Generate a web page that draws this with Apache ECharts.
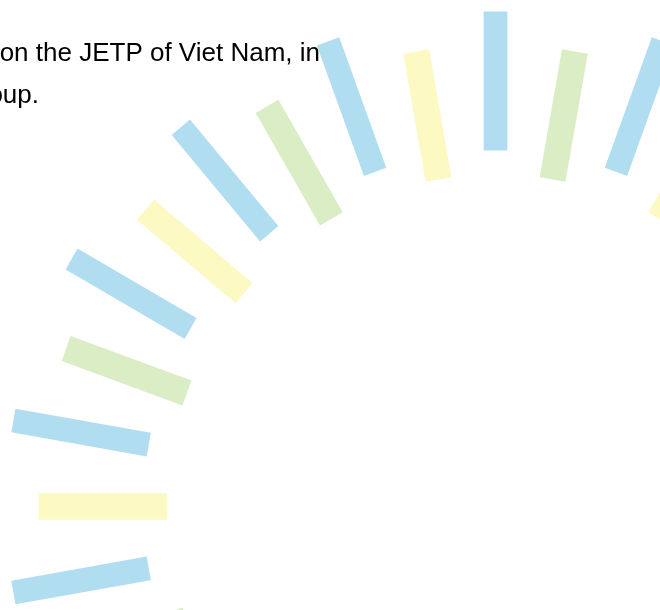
<!DOCTYPE html>
<html>
<head>
<meta charset="utf-8">
<style>
html,body{margin:0;padding:0;background:#ffffff;}
#chart{width:660px;height:610px;}
</style>
<script src="https://cdn.jsdelivr.net/npm/echarts@6/dist/echarts.min.js"></script>
</head>
<body>
<div id="chart"></div>
<script>
// Data: angle (degrees, counter-clockwise from the right) of each ray and its colour group
var rayAngles = [60, 70, 80, 90, 100, 110, 120, 130, 140, 150, 160, 170, 180, 190, 200];
var rayGroups = ['yellow', 'blue', 'green', 'blue', 'yellow', 'blue', 'green', 'blue', 'yellow', 'blue', 'green', 'blue', 'yellow', 'blue', 'green'];
var textLines = ['on the JETP of Viet Nam, in', 'oup.'];

// Styles
var groupStyle = {
  blue:   { color: '#b0def0', r0: 356, r1: 495, w: 24 },
  yellow: { color: '#fcf9c3', r0: 332, r1: 462, w: 26.5 },
  green:  { color: '#dbedc5', r0: 332, r1: 462, w: 26.5 }
};

var data = rayAngles.map(function (a, i) { return [a, i]; });

var chart = echarts.init(document.getElementById('chart'), null, { renderer: 'canvas' });
chart.setOption({
  animation: false,
  backgroundColor: '#ffffff',
  grid: { left: 0, right: 0, top: 0, bottom: 0 },
  xAxis: { type: 'value', min: -501, max: 166.3, show: false },
  yAxis: { type: 'value', min: -103.5, max: 506.5, show: false },
  series: [{
    type: 'custom',
    clip: true,
    data: data,
    renderItem: function (params, api) {
      var a = api.value(0) * Math.PI / 180;
      var g = groupStyle[rayGroups[api.value(1)]];
      var dx = Math.cos(a), dy = Math.sin(a);
      var px = -dy, py = dx;
      var h = g.w / 2;
      var pts = [
        [g.r0 * dx + h * px, g.r0 * dy + h * py],
        [g.r1 * dx + h * px, g.r1 * dy + h * py],
        [g.r1 * dx - h * px, g.r1 * dy - h * py],
        [g.r0 * dx - h * px, g.r0 * dy - h * py]
      ].map(function (p) { return api.coord(p); });
      return {
        type: 'polygon',
        shape: { points: pts },
        style: { fill: g.color }
      };
    }
  }],
  graphic: [
    { type: 'text', right: 340, top: 41, z: 10,
      style: { text: textLines[0], fill: '#000000', font: '26px "Liberation Sans", Arial, sans-serif', textAlign: 'right' } },
    { type: 'text', right: 621, top: 83, z: 10,
      style: { text: textLines[1], fill: '#000000', font: '26px "Liberation Sans", Arial, sans-serif', textAlign: 'right' } }
  ]
});
</script>
</body>
</html>
